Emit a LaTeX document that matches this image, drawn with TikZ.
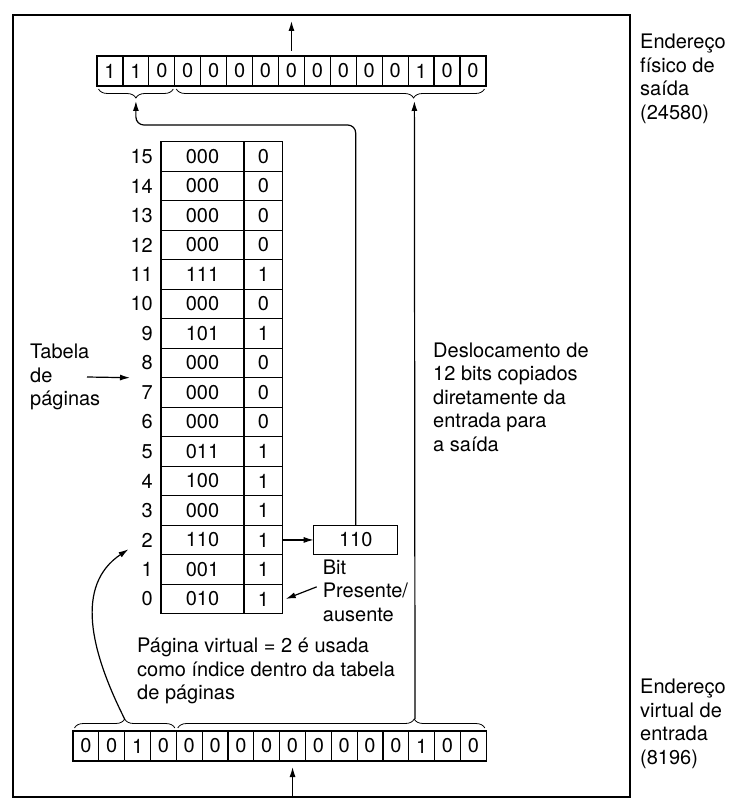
\documentclass[tikz,border=0pt]{standalone}
\usepackage{fontspec}
\setmainfont{TeX Gyre Heros}
\usetikzlibrary{positioning}
\usetikzlibrary{calc}
\usetikzlibrary{arrows.meta}
\usetikzlibrary{decorations.pathreplacing}

\begin{document}
\begin{tikzpicture}[x=1pt,y=1pt,yscale=-1,xscale=1,
  txt/.style={font=\fontsize{20}{23.5}\selectfont, inner sep=0pt},
  cell/.style={txt, draw, line width=1.2pt, minimum width=25.9pt, minimum height=30pt, outer sep=0pt},
  frm/.style={cell, minimum width=83pt, minimum height=29.5pt},
  pbit/.style={cell, minimum width=38.7pt, minimum height=29.5pt},
  conn/.style={line width=1.2pt, -{Latex[length=10pt,width=6pt]}},
  curly/.style={line width=0.8pt, decorate, decoration={brace, amplitude=9pt, #1}},
  curly/.default={}]
\useasboundingbox (0,0) rectangle (753,810);

%Shape: Rectangle
\draw [line width=1.5pt] (13,15) rectangle (630,797);

%Output register (physical address)
\foreach \b [count=\i from 0] in {1,1,0,0,0,0,0,0,0,0,0,0,1,0,0}
  \node [cell] (o\i) at ({97+(\i+0.5)*25.93},71) {\b};

%Input register (virtual address)
\foreach \b [count=\i from 0] in {0,0,1,0,0,0,0,0,0,0,0,0,0,1,0,0}
  \node [cell] (v\i) at ({73+(\i+0.5)*25.83},746) {\b};

%Page table, rows 15 down to 0
\foreach \f/\p [count=\k from 0] in {000/0,000/0,000/0,000/0,111/1,000/0,101/1,000/0,000/0,000/0,011/1,100/1,000/1,110/1,001/1,010/1}{
  \pgfmathtruncatemacro{\r}{15-\k}
  \node [frm] (f\r) at (202.5,{141.7+(\k+0.5)*29.5}) {\f};
  \node [pbit, right=0pt of f\r] (p\r) {\p};
  \node [txt, left=8pt of f\r] (n\r) {\r};
}

%Shape: Rectangle (copied frame)
\node [cell, minimum width=84pt, minimum height=29.5pt, right=31pt of p2] (phys) {110};

%Braces
\coordinate (tb1) at ($(o0.south west)!0.5!(o2.south east)+(0,12)$);
\coordinate (tb2) at ($(o3.south west)!0.77!(o14.south east)+(0,12)$);
\coordinate (bb1) at ($(v0.north west)!0.5!(v3.north east)+(0,-12)$);
\coordinate (bb2) at ($(v4.north west)!0.77!(v15.north east)+(0,-12)$);
\draw [curly={mirror}] ($(o0.south west)+(1.5,3)$) -- ($(o2.south east)+(-1.5,3)$);
\draw [curly={mirror,aspect=0.77}] ($(o3.south west)+(1.5,3)$) -- ($(o14.south east)+(-1.5,3)$);
\draw [curly] ($(v0.north west)+(1.5,-3)$) -- ($(v3.north east)+(-1.5,-3)$);
\draw [curly={aspect=0.77}] ($(v4.north west)+(1.5,-3)$) -- ($(v15.north east)+(-1.5,-3)$);

%Arrows
\draw [conn] ($(o7.north)+(0,-5)$) -- ($(o7.north)+(0,-35)$);
\coordinate (inbase) at ($(v8.south)+(0,36)$);
\draw [conn] (inbase) -- ($(v8.south)+(0,6)$);
\draw [conn] (p2.east) -- (phys.west);
\draw [conn, rounded corners=8pt] (phys.north) |- ($(tb1)+(0,27)$) -- ($(tb1)+(0,3)$);
\draw [conn] (bb2) -- ($(tb2)+(0,3)$);
\coordinate (vtip) at ($(n2.south west)+(-13,2)$);
\draw [conn] (bb1) .. controls (90,650) and (75,585) .. (vtip);

% Text Node
\node [txt, align=left, anchor=west] (tab) at (30,377) {Tabela\\de\\páginas};
\coordinate (tabtip) at ($(f8.south west)+(-31,0)$);
\draw [conn] (tab.west -| 87,0) -- (tabtip);
% Text Node
\node [txt, align=left, anchor=north west] (bitlbl) at ($(phys.south west)+(9,5)$) {Bit\\Presente/\\ausente};
\draw [conn] ($(bitlbl.west)+(-6,-4)$) -- ($(p0.east)+(3,0)$);
% Text Node
\node [txt, align=left, anchor=west] (vlbl) at (137,671) {Página virtual = 2 é usada\\como índice dentro da tabela\\de páginas};
% Text Node
\node [txt, align=left, anchor=west] (desl) at (433,397) {Deslocamento de\\12 bits copiados\\diretamente da\\entrada para\\a saída};
% Text Node
\node [txt, align=left, anchor=west] (outlbl) at (640,79) {Endereço\\físico de\\saída\\(24580)};
% Text Node
\node [txt, align=left, anchor=west] (inlbl) at (640,724) {Endereço\\virtual de\\entrada\\(8196)};

\end{tikzpicture}
\end{document}
